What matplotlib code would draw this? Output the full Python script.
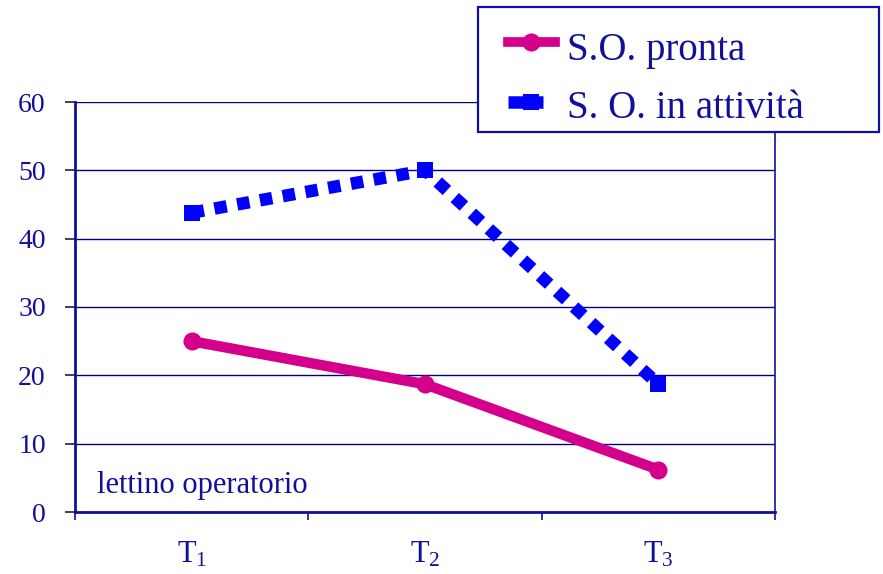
import matplotlib
matplotlib.use("Agg")
import matplotlib.pyplot as plt
from matplotlib.lines import Line2D
from matplotlib.patches import Rectangle

plt.rcParams['font.family'] = ['Liberation Serif', 'DejaVu Serif']
plt.rcParams['mathtext.fontset'] = 'custom'
plt.rcParams['mathtext.rm'] = 'Liberation Serif'
plt.rcParams['mathtext.it'] = 'Liberation Serif'

# Data
categories = [r'T$_1$', r'T$_2$', r'T$_3$']
so_pronta = [25.0, 18.7, 6.2]
so_attivita = [43.8, 50.0, 18.7]
yticks = [0, 10, 20, 30, 40, 50, 60]
series_names = ['S.O. pronta', 'S. O. in attività']

navy = '#10109A'
pink = '#D4008C'
blue = '#0000FF'

W, H = 883, 574
fig = plt.figure(figsize=(W / 100, H / 100), dpi=100)
ax = fig.add_axes([75 / W, 1 - 512 / H, 700 / W, 410 / H])

x = [i + 0.5 for i in range(len(categories))]

ax.plot(x, so_attivita, color=blue, lw=9, linestyle=(0, (1.0, 0.85)),
        dash_capstyle='butt', marker='s', markersize=12,
        markeredgewidth=0, zorder=3)
ax.plot(x, so_pronta, color=pink, lw=7.5, solid_capstyle='round',
        marker='o', markersize=13, markeredgewidth=0, zorder=4)

ax.set_xlim(0, 3)
ax.set_ylim(0, 60)
ax.set_yticks(yticks)
ax.yaxis.grid(True, color='#000080', lw=1.0)
ax.set_axisbelow(True)

ax.set_xticks([0, 1, 2, 3])
ax.set_xticklabels([])
ax.set_xticks(x, minor=True)
ax.set_xticklabels(categories, minor=True)
ax.tick_params(axis='x', which='major', direction='out', length=6,
               width=1.2, color=navy)
ax.tick_params(axis='x', which='minor', length=0, pad=20,
               labelsize=22, labelcolor=navy)
ax.tick_params(axis='y', direction='out', length=7, width=1.2,
               color='#222222', pad=14, labelsize=20, labelcolor=navy)

for side in ['left', 'bottom']:
    ax.spines[side].set_color(navy)
    ax.spines[side].set_linewidth(2)
ax.spines['right'].set_color(navy)
ax.spines['right'].set_linewidth(1.2)
ax.spines['top'].set_visible(False)

ax.text(0.095, 2.8, 'lettino operatorio', fontsize=22, color=navy,
        ha='left', va='baseline')

# Legend box, drawn in pixel-based figure coordinates
def fx(px):
    return px / W

def fy(py):
    return 1 - py / H

fig.add_artist(Rectangle((fx(478), fy(132)), fx(879) - fx(478),
                         fy(7) - fy(132), transform=fig.transFigure,
                         facecolor='white', edgecolor=navy, lw=1.6,
                         zorder=10))
fig.add_artist(Line2D([fx(508), fx(555)], [fy(42), fy(42)],
                      transform=fig.transFigure, color=pink, lw=7,
                      zorder=11))
fig.add_artist(Line2D([fx(531)], [fy(42)], transform=fig.transFigure,
                      color=pink, marker='o', markersize=13,
                      markeredgewidth=0, zorder=12))
fig.add_artist(Line2D([fx(508), fx(543)], [fy(102), fy(102)],
                      transform=fig.transFigure, color=blue, lw=9,
                      solid_capstyle='butt', zorder=11))
fig.add_artist(Line2D([fx(531)], [fy(102)], transform=fig.transFigure,
                      color=blue, marker='s', markersize=12,
                      markeredgewidth=0, zorder=12))
for name, base in zip(series_names, [60, 118]):
    fig.text(fx(567), fy(base), name, fontsize=28, color=navy,
             ha='left', va='baseline', zorder=13)

fig.savefig('out.png', dpi=100)
